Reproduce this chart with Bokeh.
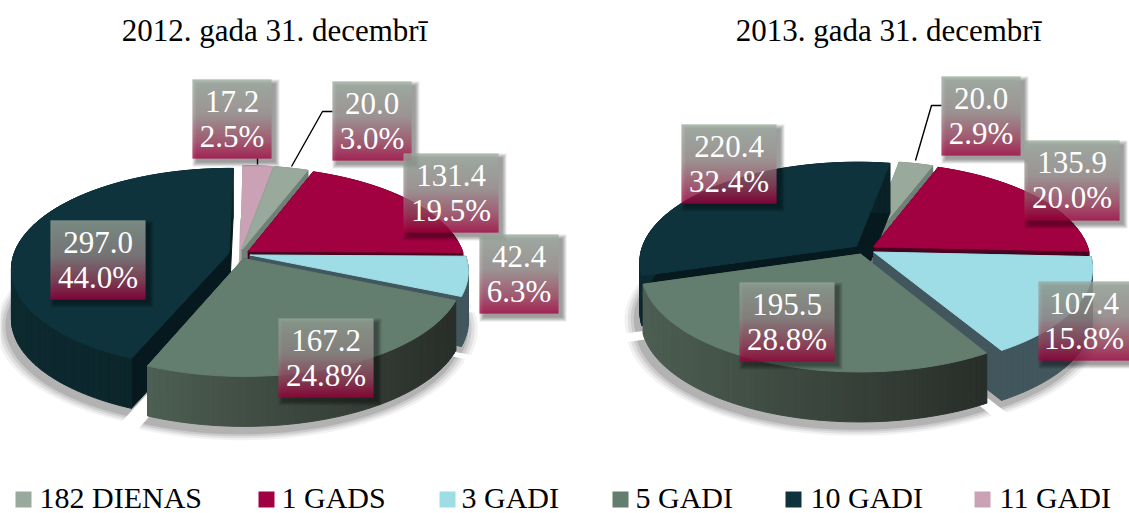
import numpy as np
from bokeh.plotting import figure
from bokeh.core.properties import value
from bokeh.embed import file_html
from bokeh.resources import INLINE

# ---------- data ----------
categories = ["182 DIENAS", "1 GADS", "3 GADI", "5 GADI", "10 GADI", "11 GADI"]
values_2012 = [20.0, 131.4, 42.4, 167.2, 297.0, 17.2]
shares_2012 = ["3.0%", "19.5%", "6.3%", "24.8%", "44.0%", "2.5%"]
values_2013 = [20.0, 135.9, 107.4, 195.5, 220.4]
shares_2013 = ["2.9%", "20.0%", "15.8%", "28.8%", "32.4%"]
titles = ["2012. gada 31. decembrī", "2013. gada 31. decembrī"]

# ---------- styles / layout ----------
top_colors = ["#99A99C", "#A10041", "#9EDCE6", "#637D6E", "#0E333C", "#CBA1B6"]
wall_start = ["#6F8075", "#4A0020", "#41565D", "#4D5E52", "#0D2A30", "#A8A3A6"]
wall_end = ["#6F8075", "#4A0020", "#41565D", "#282E29", "#0A2227", "#A8A3A6"]
radial = ["#6F8075", "#4A0020", "#41565D", "#4A5B50", "#06191E", "#A8A3A6"]
A, B, K, DEPTH, EXPLODE = 215.0, 98.0, 0.155, 50.0, 0.05
pies = [
    dict(vals=values_2012, cx=239.0, cy=253.5, start=10.0),
    dict(vals=values_2013, cx=864.0, cy=249.0, start=10.0),
]
# label boxes: left, right, top, bottom, in page pixels
boxes_2012 = [(332, 411, 81, 160), (403, 498, 153, 232), (479, 558, 234, 313),
              (278, 373, 318, 397), (50, 145, 220, 299), (192, 271, 79, 158)]
boxes_2013 = [(941, 1020, 76, 155), (1024, 1119, 140, 220), (1038, 1129, 281, 360),
              (739, 834, 282, 361), (681, 776, 124, 203)]
title_x = [274, 888]
legend_sq = [15, 258, 439, 612, 785, 974]
legend_tx = [39, 281, 461, 635, 810, 999]
leaders = [([332, 322, 291], [111, 111, 166]), ([257, 257], [158, 164]),
           ([941, 931, 915], [105, 105, 160])]
W, H = 1129, 513
p = figure(width=W, height=H, x_range=(0, W), y_range=(H, 0),
           output_backend="svg", toolbar_location=None, min_border=0)
p.axis.visible = False
p.grid.visible = False
p.outline_line_color = None


def hex2rgb(c):
    return np.array([int(c[i:i + 2], 16) for i in (1, 3, 5)], float)


def mix(c1, c2, t):
    r = hex2rgb(c1) * (1 - t) + hex2rgb(c2) * t
    return "#%02x%02x%02x" % tuple(int(round(x)) for x in r)


def project(u, v, cx, cy):
    d = 1 + K * v
    return cx + A * u / d, cy - B * v / d


shx, shy, sha = [], [], []
px, py, pc = [], [], []


def add(xs, ys, c):
    px.append(list(xs)); py.append(list(ys)); pc.append(c)


for pie in pies:
    vals = np.array(pie["vals"], float)
    spans = vals / vals.sum() * 360
    starts = pie["start"] + np.concatenate([[0], np.cumsum(spans)[:-1]])
    order = sorted(range(len(vals)), key=lambda i: -np.cos(np.radians(starts[i] + spans[i] / 2)))
    for grow, al in [(12, .05), (9, .07), (6, .09), (3, .12)]:
        for i in order:
            m = np.radians(starts[i] + spans[i] / 2)
            ou, ov = EXPLODE * np.sin(m), EXPLODE * np.cos(m)
            th = np.radians(np.linspace(starts[i], starts[i] + spans[i], 40))
            r = 1 + grow / A
            x, y = project(ou + r * np.sin(th), ov + r * np.cos(th), pie["cx"], pie["cy"])
            ax, ay = project(ou, ov, pie["cx"], pie["cy"])
            shx.append([ax - 3] + list(x - 3))
            shy.append([ay + DEPTH + 6] + list(y + DEPTH + 6))
            sha.append(al)
    for i in order:
        m = np.radians(starts[i] + spans[i] / 2)
        ou, ov = EXPLODE * np.sin(m), EXPLODE * np.cos(m)
        th = np.radians(np.linspace(starts[i], starts[i] + spans[i], max(8, int(spans[i] / 1.5))))
        x, y = project(ou + np.sin(th), ov + np.cos(th), pie["cx"], pie["cy"])
        ax, ay = project(ou, ov, pie["cx"], pie["cy"])
        add([ax, x[0], x[0], ax], [ay, y[0], y[0] + DEPTH, ay + DEPTH], radial[i])
        add([ax, x[-1], x[-1], ax], [ay, y[-1], y[-1] + DEPTH, ay + DEPTH], radial[i])
        lo, hi = x.min(), x.max()
        for j in range(len(x) - 1):
            t = ((x[j] + x[j + 1]) / 2 - lo) / max(hi - lo, 1)
            add([x[j], x[j + 1], x[j + 1], x[j]],
                [y[j], y[j + 1], y[j + 1] + DEPTH, y[j] + DEPTH],
                mix(wall_start[i], wall_end[i], t))
        add([ax] + list(x), [ay] + list(y), top_colors[i])

p.patches(shx, shy, fill_color="#000000", fill_alpha=sha, line_color=None)
p.patches(px, py, fill_color=pc, line_color=pc, line_width=1.0)

for lx, ly in leaders:
    p.line(lx, ly, line_color="#000000", line_width=1.4)

stops = [(0, "#9DAD A0".replace(" ", "")), (.45, "#9A8F8F"), (.8, "#A0405F"), (1, "#A2003F")]


def grad(t):
    for (a, ca), (b, cb) in zip(stops, stops[1:]):
        if t <= b:
            return mix(ca, cb, (t - a) / (b - a))
    return stops[-1][1]


ql, qr, qt, qb, qc = [], [], [], [], []
sl, sr, st, sb = [], [], [], []
tx, ty, tt = [], [], []
for boxes, vals, shares in [(boxes_2012, values_2012, shares_2012),
                            (boxes_2013, values_2013, shares_2013)]:
    for box, v, s in zip(boxes, vals, shares):
        l, r, t, b = box
        for g in (4, 3, 2, 1, 0):
            sl.append(l + 4 - g); sr.append(r + 4 + g); st.append(t + 4 - g); sb.append(b + 4 + g)
        for yy in range(t, b):
            ql.append(l); qr.append(r); qt.append(yy); qb.append(yy + 1)
            qc.append(grad((yy - t) / (b - t - 1)))
        tx += [(l + r) / 2, (l + r) / 2]
        ty += [t + 22, t + 57]
        tt += ["%.1f" % v, s]
p.quad(left=sl, right=sr, top=st, bottom=sb, fill_color="#000000", fill_alpha=0.09, line_color=None)
p.quad(left=ql, right=qr, top=qt, bottom=qb, fill_color=qc, line_color=None)
p.text(tx, ty, text=tt, text_color="#FFFFFF", text_font=value("Liberation Serif"),
       text_font_size="31px", text_align="center", text_baseline="middle")

p.text(title_x, [29.5, 29.5], text=titles, text_color="#000000", text_font=value("Liberation Serif"),
       text_font_size="31px", text_align="center", text_baseline="middle")

p.quad(left=legend_sq, right=[x + 16 for x in legend_sq], top=[491] * 6, bottom=[507] * 6,
       fill_color=top_colors, line_color=None)
p.text(legend_tx, [497] * 6, text=categories, text_color="#000000", text_font=value("Liberation Serif"),
       text_font_size="30px", text_align="left", text_baseline="middle")

open("out.html", "w").write(file_html(p, INLINE))
